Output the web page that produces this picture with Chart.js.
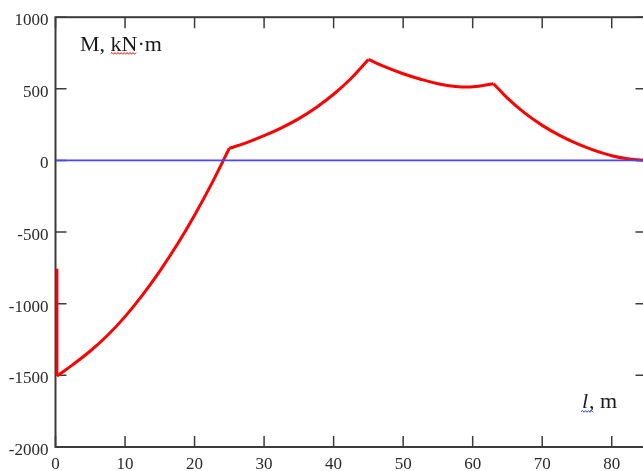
<!DOCTYPE html>
<html>
<head>
<meta charset="utf-8">
<script src="https://cdn.jsdelivr.net/npm/chart.js@4"></script>
<style>
  html, body { margin: 0; padding: 0; background: #fff; overflow: hidden; }
  #wrap { width: 650px; height: 471px; }
</style>
</head>
<body>
<div id="wrap"><canvas id="momentChart" width="650" height="471"></canvas></div>
<script>
// axis ticks
const xTicks = [0, 10, 20, 30, 40, 50, 60, 70, 80];
const yTicks = [-2000, -1500, -1000, -500, 0, 500, 1000];

// bending moment M (kN·m) along the length l (m)
const xJump = [0.2, 0.2];
const mJump = [-755, -1505];

const xSpan1 = [0.2, 2.5, 5, 7.5, 10, 12.5, 15, 17.5, 20, 22.5, 25];
const mSpan1 = [-1505, -1425, -1330, -1220, -1090, -940, -772, -587, -382, -158, 85];

const xSpan2 = [25, 27.5, 30, 32.5, 35, 37.5, 40, 42.5, 45];
const mSpan2 = [85, 125, 173, 228, 292, 370, 462, 572, 705];

const xSpan3 = [45, 47.5, 50, 52.5, 55, 57.5, 60, 63];
const mSpan3 = [705, 651, 605, 567, 536, 517, 514, 536];

const xSpan4 = [63, 65, 67.5, 70, 72.5, 75, 77.5, 80, 82.5, 85];
const mSpan4 = [536, 435, 330, 245, 175, 117, 70, 33, 10, 0];

// zero line
const xZero = [0, 85];
const mZero = [0, 0];

const serif = "'Liberation Serif', 'Times New Roman', serif";

function toPoints(xs, ys) {
    return xs.map((x, i) => ({ x: x, y: ys[i] }));
}

function redPiece(xs, ys, smooth) {
    return {
        data: toPoints(xs, ys),
        showLine: true,
        borderColor: '#ff0000',
        borderWidth: 3,
        pointRadius: 0,
        tension: smooth ? 0.4 : 0
    };
}

// zigzag like the spell-check underline
function squiggle(ctx, x0, x1, y, color) {
    ctx.strokeStyle = color;
    ctx.lineWidth = 1;
    ctx.beginPath();
    let up = true;
    ctx.moveTo(x0, y);
    for (let x = x0 + 1.5; x <= x1; x += 1.5) {
        ctx.lineTo(x, up ? y - 1.2 : y + 0.6);
        up = !up;
    }
    ctx.stroke();
}

// frame with inward ticks, like the original plot
const framePlugin = {
    id: 'frame',
    beforeDatasetsDraw(chart) {
        const { ctx, chartArea: a, scales: { x, y } } = chart;
        ctx.save();
        ctx.strokeStyle = '#3c3c3c';
        ctx.lineWidth = 2;
        ctx.strokeRect(a.left, a.top, a.right - a.left, a.bottom - a.top);
        ctx.lineWidth = 1.5;
        ctx.beginPath();
        xTicks.forEach(v => {
            const px = x.getPixelForValue(v);
            ctx.moveTo(px, a.bottom);
            ctx.lineTo(px, a.bottom - 11);
            ctx.moveTo(px, a.top);
            ctx.lineTo(px, a.top + 11);
        });
        yTicks.forEach(v => {
            const py = y.getPixelForValue(v);
            ctx.moveTo(a.left, py);
            ctx.lineTo(a.left + 11, py);
            ctx.moveTo(a.right, py);
            ctx.lineTo(a.right - 11, py);
        });
        ctx.stroke();
        ctx.restore();
    },
    afterDraw(chart) {
        const { ctx, chartArea: a } = chart;
        ctx.save();
        ctx.fillStyle = '#1a1a1a';
        ctx.textBaseline = 'alphabetic';
        ctx.textAlign = 'left';

        // y-axis title
        const mx = a.left + 24.5, my = a.top + 34;
        ctx.font = '22px ' + serif;
        ctx.fillText('M, kN·m', mx, my);
        const kx = mx + ctx.measureText('M, ').width;
        const kw = ctx.measureText('kN').width;
        squiggle(ctx, kx, kx + kw, my + 2.5, '#e02020');

        // x-axis title, italic l
        const lx = a.left + 526.5, ly = a.top + 391;
        ctx.font = 'italic 22px ' + serif;
        ctx.fillText('l', lx, ly);
        const lw = ctx.measureText('l').width;
        ctx.font = '22px ' + serif;
        ctx.fillText(', m', lx + lw + 1, ly);
        squiggle(ctx, lx - 1, lx + 11, ly + 3.5, '#3050e0');
        ctx.restore();
    }
};

const ctx = document.getElementById('momentChart').getContext('2d');

new Chart(ctx, {
    type: 'scatter',
    data: {
        datasets: [
            {
                data: toPoints(xZero, mZero),
                showLine: true,
                borderColor: 'rgb(70, 70, 255)',
                borderWidth: 1.8,
                pointRadius: 0
            },
            redPiece(xJump, mJump, false),
            redPiece(xSpan1, mSpan1, true),
            redPiece(xSpan2, mSpan2, true),
            redPiece(xSpan3, mSpan3, true),
            redPiece(xSpan4, mSpan4, true)
        ]
    },
    options: {
        responsive: false,
        animation: false,
        layout: { padding: { top: 16, right: 3.5, left: 0, bottom: 0 } },
        plugins: {
            legend: { display: false },
            tooltip: { enabled: false }
        },
        scales: {
            x: {
                type: 'linear',
                min: 0,
                max: 85,
                grid: { display: false, drawTicks: false },
                border: { display: false },
                afterBuildTicks: s => { s.ticks = xTicks.map(v => ({ value: v })); },
                afterFit: s => { s.height = 24; },
                ticks: {
                    padding: 7,
                    color: '#2a2a2a',
                    font: { family: serif, size: 17 },
                    callback: v => String(v)
                }
            },
            y: {
                type: 'linear',
                min: -2000,
                max: 1000,
                grid: { display: false, drawTicks: false },
                border: { display: false },
                afterBuildTicks: s => { s.ticks = yTicks.map(v => ({ value: v })); },
                afterFit: s => { s.width = 55.5; },
                ticks: {
                    padding: 7,
                    labelOffset: 3.5,
                    color: '#2a2a2a',
                    font: { family: serif, size: 17 },
                    callback: v => String(v)
                }
            }
        }
    },
    plugins: [framePlugin]
});
</script>
</body>
</html>
